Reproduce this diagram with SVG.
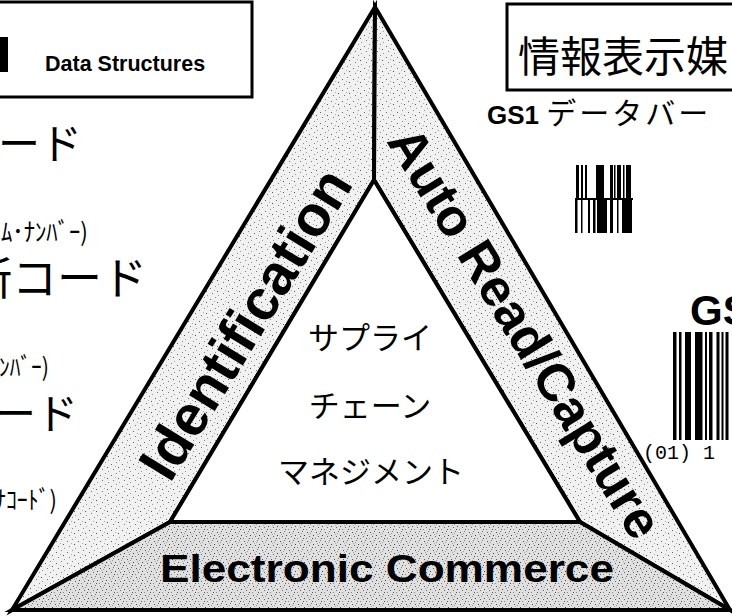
<svg xmlns="http://www.w3.org/2000/svg" width="732" height="616" viewBox="0 0 732 616">
<style>
.jp{font-family:"Noto Sans CJK JP","Noto Sans CJK SC",sans-serif;fill:#000}
.en{font-family:"Liberation Sans",Arial,sans-serif;font-weight:bold;fill:#000}
.band{stroke:#000;stroke-width:4;stroke-linejoin:miter}
.box{fill:#fff;stroke:#000;stroke-width:3}
.bar{fill:#000}
</style>
<defs>
<pattern id="stipL" width="11" height="11" patternUnits="userSpaceOnUse">
<rect width="11" height="11" fill="#f1f1f1"/>
<rect x="1" y="2" width="1" height="1" fill="#666"/>
<rect x="6" y="0" width="1" height="1" fill="#888"/>
<rect x="8" y="5" width="1" height="1" fill="#555"/>
<rect x="3" y="7" width="1" height="1" fill="#777"/>
<rect x="9" y="9" width="1" height="1" fill="#999"/>
<rect x="5" y="4" width="1" height="1" fill="#aaa"/>
</pattern>
<pattern id="stipD" width="9" height="9" patternUnits="userSpaceOnUse">
<rect width="9" height="9" fill="#e0e0e0"/>
<rect x="1" y="1" width="1" height="1" fill="#555"/>
<rect x="5" y="0" width="1" height="1" fill="#777"/>
<rect x="7" y="4" width="1" height="1" fill="#444"/>
<rect x="3" y="5" width="1" height="1" fill="#666"/>
<rect x="0" y="7" width="1" height="1" fill="#888"/>
<rect x="6" y="7" width="1" height="1" fill="#555"/>
<rect x="4" y="2" width="1" height="1" fill="#999"/>
<rect x="2" y="3" width="1" height="1" fill="#aaa"/>
</pattern>
</defs>
<rect width="732" height="616" fill="#fff"/>

<g id="data-structures-box">
<rect class="box" x="-10" y="2" width="262" height="95"/>
<rect x="0" y="37" width="8" height="35" fill="#000"/>
<text class="en" x="45" y="71" font-size="21.5">Data Structures</text>
</g>

<g id="data-structures-list">
<text class="jp" x="82" y="159" font-size="42" text-anchor="end">コード</text>
<text class="jp" x="1" y="241" font-size="25" textLength="87" lengthAdjust="spacingAndGlyphs">ﾑ･ﾅﾝﾊﾞｰ)</text>
<text class="jp" x="147" y="295" font-size="45" text-anchor="end">所コード</text>
<text class="jp" x="-1" y="376" font-size="25" textLength="50" lengthAdjust="spacingAndGlyphs">ﾝﾊﾞｰ)</text>
<text class="jp" x="78" y="429" font-size="42" text-anchor="end">ード</text>
<text class="jp" x="-5" y="509" font-size="25" textLength="62" lengthAdjust="spacingAndGlyphs">ﾅｺｰﾄﾞ)</text>
</g>

<g id="data-carriers-box">
<rect class="box" x="507" y="4" width="240" height="86"/>
<text class="jp" x="518" y="72" font-size="42">情報表示媒</text>
</g>

<g id="gs1-databar">
<text x="487" y="124"><tspan class="en" font-size="26">GS1 </tspan><tspan class="jp" font-size="30" letter-spacing="3">データバー</tspan></text>
<g class="bar">
<rect x="576" y="165" width="3" height="34"/><rect x="581" y="165" width="2" height="34"/><rect x="585" y="165" width="2" height="34"/>
<rect x="596" y="165" width="8" height="34"/><rect x="610" y="165" width="3" height="34"/><rect x="614" y="165" width="1.5" height="34"/>
<rect x="617" y="165" width="4" height="34"/><rect x="623" y="165" width="1.5" height="34"/><rect x="626" y="165" width="5" height="34"/>
<rect x="575" y="198" width="58" height="2"/>
<rect x="575" y="200" width="2.5" height="33"/><rect x="581" y="200" width="1.5" height="33"/><rect x="588" y="200" width="2" height="33"/>
<rect x="593" y="200" width="2.5" height="33"/><rect x="597" y="200" width="10" height="33"/><rect x="610" y="200" width="3" height="33"/>
<rect x="617" y="200" width="1.5" height="33"/><rect x="622" y="200" width="10" height="33"/>
</g>
</g>

<g id="gs1-128">
<text class="en" x="690" y="325" font-size="42">GS</text>
<g class="bar">
<rect x="673" y="332" width="3.5" height="108"/><rect x="679" y="332" width="2.5" height="108"/><rect x="685" y="332" width="6" height="108"/>
<rect x="695" y="332" width="7.5" height="108"/><rect x="705" y="332" width="2" height="108"/><rect x="709" y="332" width="3.5" height="108"/>
<rect x="716.5" y="332" width="3" height="108"/><rect x="721.5" y="332" width="2" height="108"/><rect x="725.5" y="332" width="3" height="108"/>
</g>
<text x="643" y="459" font-family="Liberation Mono,monospace" font-size="20" fill="#000">(01) 1</text>
</g>

<g id="triangle">
<polygon id="band-identification" class="band" fill="url(#stipL)" points="375,7 12,610 170,522 374,180"/>
<polygon id="band-auto-read" class="band" fill="url(#stipL)" points="375,7 374,180 580,522 730,610"/>
<polygon id="band-ecommerce" class="band" fill="url(#stipD)" points="12,610 730,610 580,522 170,522"/>
<polygon id="supply-chain" class="band" fill="#fff" points="374,180 170,522 580,522"/>
</g>

<g id="identification">
<text class="en" x="262" y="334" font-size="57" text-anchor="middle" textLength="352" lengthAdjust="spacingAndGlyphs" transform="rotate(-58.5 262 334)">Identification</text>
</g>
<g id="auto-read-capture">
<text class="en" x="510" y="342" font-size="52" text-anchor="middle" textLength="472" lengthAdjust="spacingAndGlyphs" transform="rotate(58.3 510 342)">Auto Read/Capture</text>
</g>
<g id="electronic-commerce">
<text class="en" x="160" y="582" font-size="39" textLength="454" lengthAdjust="spacingAndGlyphs">Electronic Commerce</text>
</g>
<g id="scm">
<text class="jp" x="370" y="349" font-size="31" text-anchor="middle">サプライ</text>
<text class="jp" x="370" y="417" font-size="31" text-anchor="middle">チェーン</text>
<text class="jp" x="371" y="483" font-size="31" text-anchor="middle">マネジメント</text>
</g>
</svg>
